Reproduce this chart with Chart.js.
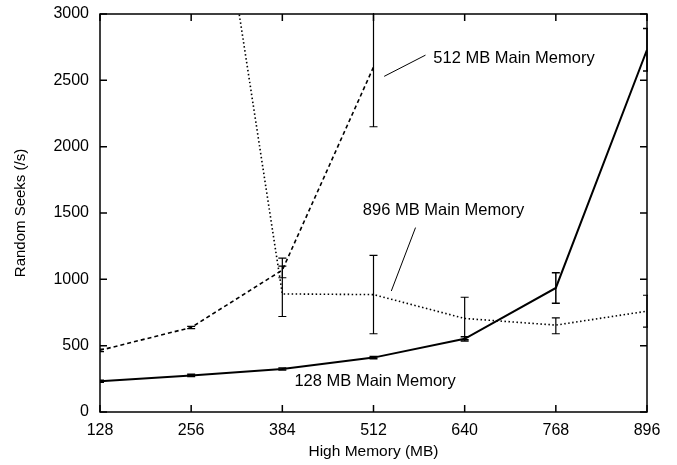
<!DOCTYPE html>
<html>
<head>
<meta charset="utf-8">
<script src="https://cdn.jsdelivr.net/npm/chart.js@4.4.1/dist/chart.umd.min.js"></script>
<style>
  html, body { margin: 0; padding: 0; background: #fff; }
  #wrap { width: 677px; height: 465px; }
</style>
</head>
<body>
<div id="wrap"><canvas id="graphe"></canvas></div>
<script>
// donnees
const memoireHaute = [128, 256, 384, 512, 640, 768, 896];

const seeks128 = [232, 276, 324, 410, 552, 935, 2730];
const err128Bas = [225, 268, 316, 402, 535, 820, 2570];
const err128Haut = [240, 284, 332, 418, 568, 1050, 2890];

const seeks512 = [465, 637, 1070, 2600];
const err512Bas = [455, 628, 1012, 2150];
const err512Haut = [475, 646, 1100, 3050];

const seeks896 = [null, 5350, 890, 885, 705, 655, 760];
const err896Bas = [null, null, 720, 590, 545, 590, 640];
const err896Haut = [null, null, 1160, 1180, 865, 710, 880];

// etiquettes posees en coordonnees de donnees
const annotations = [
  { texte: '512 MB Main Memory', x: 596, y: 2668, trait: [527, 2530, 585, 2690] },
  { texte: '896 MB Main Memory', x: 497, y: 1518, trait: [571, 1390, 537, 912] },
  { texte: '128 MB Main Memory', x: 401, y: 230, trait: null }
];

function points(valeurs) {
  return valeurs.map((v, i) => ({ x: memoireHaute[i], y: v }));
}

const barresErreur = [
  { bas: err128Bas, haut: err128Haut, epaisseur: 1.5 },
  { bas: err512Bas, haut: err512Haut, epaisseur: 1.2 },
  { bas: err896Bas, haut: err896Haut, epaisseur: 1.2 }
];

const famille = '"Liberation Sans", Arial, sans-serif';
const policeTexte = '16.5px ' + famille;

// barres d'erreur, graduations interieures et etiquettes
const decorations = {
  id: 'decorations',
  afterDatasetsDraw(chart) {
    const ctx = chart.ctx;
    const xs = chart.scales.x, ys = chart.scales.y;
    const zone = chart.chartArea;
    ctx.save();
    ctx.beginPath();
    ctx.rect(zone.left, zone.top - 1, zone.right - zone.left + 1, zone.bottom - zone.top + 2);
    ctx.clip();
    ctx.strokeStyle = '#000';
    barresErreur.forEach(b => {
      ctx.lineWidth = b.epaisseur;
      b.bas.forEach((bas, i) => {
        const haut = b.haut[i];
        if (bas == null || haut == null) return;
        const px = xs.getPixelForValue(memoireHaute[i]);
        const y1 = ys.getPixelForValue(bas), y2 = ys.getPixelForValue(haut);
        ctx.beginPath();
        ctx.moveTo(px, y1); ctx.lineTo(px, y2);
        ctx.moveTo(px - 4, y1); ctx.lineTo(px + 4, y1);
        ctx.moveTo(px - 4, y2); ctx.lineTo(px + 4, y2);
        ctx.stroke();
      });
    });
    ctx.restore();

    // graduations vers l'interieur sur les 4 cotes
    ctx.save();
    ctx.strokeStyle = '#000';
    ctx.lineWidth = 1.5;
    ctx.beginPath();
    xs.ticks.forEach(t => {
      const px = xs.getPixelForValue(t.value);
      ctx.moveTo(px, zone.bottom); ctx.lineTo(px, zone.bottom - 7);
      ctx.moveTo(px, zone.top); ctx.lineTo(px, zone.top + 7);
    });
    ys.ticks.forEach(t => {
      const py = ys.getPixelForValue(t.value);
      ctx.moveTo(zone.left, py); ctx.lineTo(zone.left + 7, py);
      ctx.moveTo(zone.right, py); ctx.lineTo(zone.right - 7, py);
    });
    ctx.stroke();
    ctx.strokeRect(zone.left, zone.top, zone.right - zone.left, zone.bottom - zone.top);

    // etiquettes des courbes
    ctx.fillStyle = '#000';
    ctx.font = policeTexte;
    ctx.textBaseline = 'middle';
    ctx.textAlign = 'left';
    ctx.lineWidth = 1;
    annotations.forEach(a => {
      ctx.fillText(a.texte, xs.getPixelForValue(a.x), ys.getPixelForValue(a.y));
      if (a.trait) {
        ctx.beginPath();
        ctx.moveTo(xs.getPixelForValue(a.trait[0]), ys.getPixelForValue(a.trait[1]));
        ctx.lineTo(xs.getPixelForValue(a.trait[2]), ys.getPixelForValue(a.trait[3]));
        ctx.stroke();
      }
    });
    ctx.restore();
  }
};

new Chart(document.getElementById('graphe'), {
  type: 'line',
  data: {
    datasets: [
      {
        label: '128 MB Main Memory',
        data: points(seeks128),
        borderColor: '#000',
        borderWidth: 2,
        pointRadius: 0,
        tension: 0
      },
      {
        label: '512 MB Main Memory',
        data: points(seeks512),
        borderColor: '#000',
        borderWidth: 1.6,
        borderDash: [4, 3],
        pointRadius: 0,
        tension: 0
      },
      {
        label: '896 MB Main Memory',
        data: points(seeks896),
        borderColor: '#000',
        borderWidth: 1.6,
        borderDash: [1.5, 2.5],
        pointRadius: 0,
        spanGaps: false,
        tension: 0
      }
    ]
  },
  options: {
    responsive: true,
    maintainAspectRatio: false,
    animation: false,
    layout: { padding: { top: 14, right: 30, left: 0, bottom: 0 } },
    plugins: {
      legend: { display: false },
      tooltip: { enabled: false }
    },
    scales: {
      x: {
        type: 'linear',
        min: 128,
        max: 896,
        grid: { display: false, drawTicks: false },
        border: { display: false },
        ticks: {
          stepSize: 128,
          color: '#000',
          padding: 9,
          callback: v => String(v),
          font: { size: 16, family: famille }
        },
        title: {
          display: true,
          text: 'High Memory (MB)',
          color: '#000',
          padding: { top: 2, bottom: 4 },
          font: { size: 15.5, family: famille }
        },
        afterFit: s => { s.height = 53; s.paddingLeft = 0; s.paddingRight = 0; }
      },
      y: {
        min: 0,
        max: 3000,
        grid: { display: false, drawTicks: false },
        border: { display: false },
        ticks: {
          stepSize: 500,
          color: '#000',
          padding: 11,
          callback: v => String(v),
          font: { size: 16, family: famille }
        },
        title: {
          display: true,
          text: 'Random Seeks (/s)',
          color: '#000',
          padding: { top: 12, bottom: 4 },
          font: { size: 15, family: famille }
        },
        afterFit: s => { s.width = 100; s.paddingTop = 0; s.paddingBottom = 0; }
      }
    }
  },
  plugins: [decorations]
});
</script>
</body>
</html>
